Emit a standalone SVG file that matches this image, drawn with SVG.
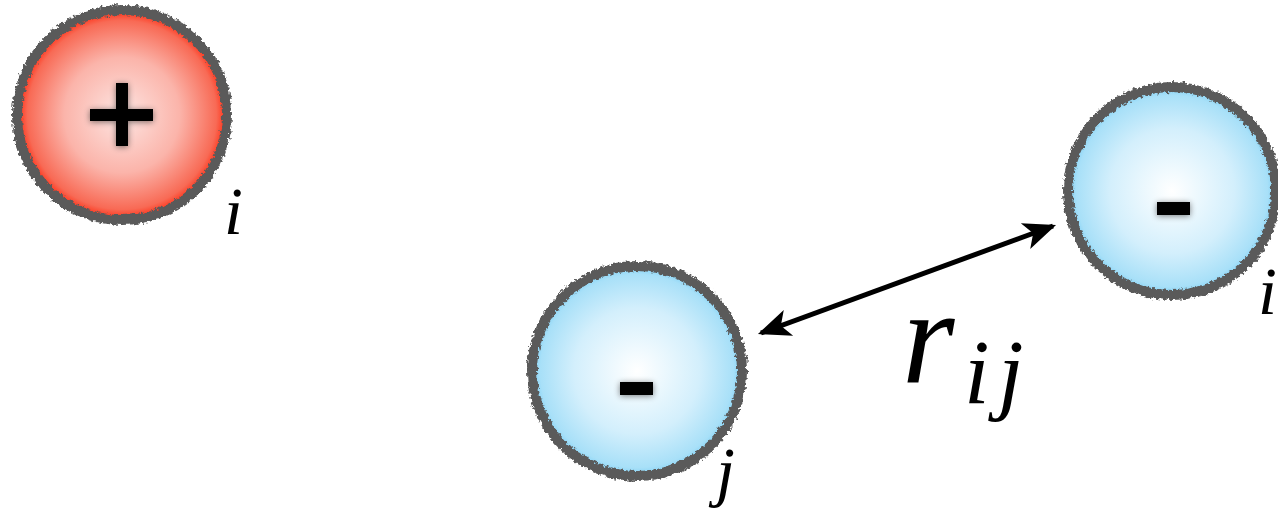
<svg xmlns="http://www.w3.org/2000/svg" width="1278" height="517" viewBox="0 0 1278 517">
<style>
.rim{fill:none;stroke:#5a5a5a;stroke-width:10;filter:url(#rough)}
.sign{fill:#000}
.glow{fill:#000;opacity:0.5;filter:url(#blur)}
.lbl{fill:#000;font-family:"Liberation Serif","DejaVu Serif",serif;font-style:italic}
.conn{stroke:#000;stroke-width:5;fill:none}
</style>
<defs>
<radialGradient id="gRed" cx="0.5" cy="0.5" r="0.5">
<stop offset="0" stop-color="#fde6e3"/>
<stop offset="0.55" stop-color="#fbb4aa"/>
<stop offset="0.9" stop-color="#f86a55"/>
<stop offset="1" stop-color="#ff2a10"/>
</radialGradient>
<radialGradient id="gBlue" cx="0.5" cy="0.5" r="0.5">
<stop offset="0" stop-color="#ffffff"/>
<stop offset="0.6" stop-color="#d3effc"/>
<stop offset="0.92" stop-color="#a8e0f8"/>
<stop offset="1" stop-color="#7fd0f5"/>
</radialGradient>
<filter id="rough" x="-10%" y="-10%" width="120%" height="120%">
<feTurbulence type="fractalNoise" baseFrequency="0.3" numOctaves="3" seed="3"/>
<feDisplacementMap in="SourceGraphic" scale="6" xChannelSelector="R" yChannelSelector="G"/>
</filter>
<filter id="blur" x="-50%" y="-50%" width="200%" height="200%">
<feGaussianBlur stdDeviation="3"/>
</filter>
<marker id="ah" viewBox="0 0 10 10" refX="9" refY="5" markerWidth="6.5" markerHeight="6.5" orient="auto-start-reverse" markerUnits="strokeWidth">
<path d="M0,0.8 L10,5 L0,9.2 L2.5,5 Z" fill="#000"/>
</marker>
</defs>
<rect width="1278" height="517" fill="#fff"/>
<g id="node-plus">
<circle cx="122" cy="115" r="105" fill="url(#gRed)"/>
<circle class="rim" cx="122" cy="115" r="105"/>
<g class="glow"><rect x="90" y="110" width="63" height="12"/><rect x="116" y="84" width="12" height="63"/></g>
<rect class="sign" x="90" y="109" width="63" height="12"/>
<rect class="sign" x="116" y="83" width="12" height="63"/>
<text class="lbl" x="224" y="234" font-size="68">i</text>
</g>
<g id="node-minus-j">
<circle cx="637" cy="371" r="105" fill="url(#gBlue)"/>
<circle class="rim" cx="637" cy="371" r="105"/>
<rect class="glow" x="620" y="383" width="33" height="13"/>
<rect class="sign" x="620" y="382" width="33" height="13"/>
<text class="lbl" x="716" y="494" font-size="68">j</text>
</g>
<g id="node-minus-i">
<circle cx="1172" cy="191" r="104" fill="url(#gBlue)"/>
<circle class="rim" cx="1172" cy="191" r="104"/>
<rect class="glow" x="1157" y="203" width="33" height="13"/>
<rect class="sign" x="1157" y="202" width="33" height="13"/>
<text class="lbl" x="1258" y="314" font-size="68">i</text>
</g>
<g id="connectors">
<line class="conn" x1="761" y1="333" x2="1053" y2="226" marker-start="url(#ah)" marker-end="url(#ah)"/>
</g>
<g id="label-rij">
<text class="lbl" x="902" y="383" font-size="135">r</text>
<text class="lbl" x="964" y="403" font-size="92">i</text>
<text class="lbl" x="998" y="403" font-size="92">j</text>
</g>
</svg>
